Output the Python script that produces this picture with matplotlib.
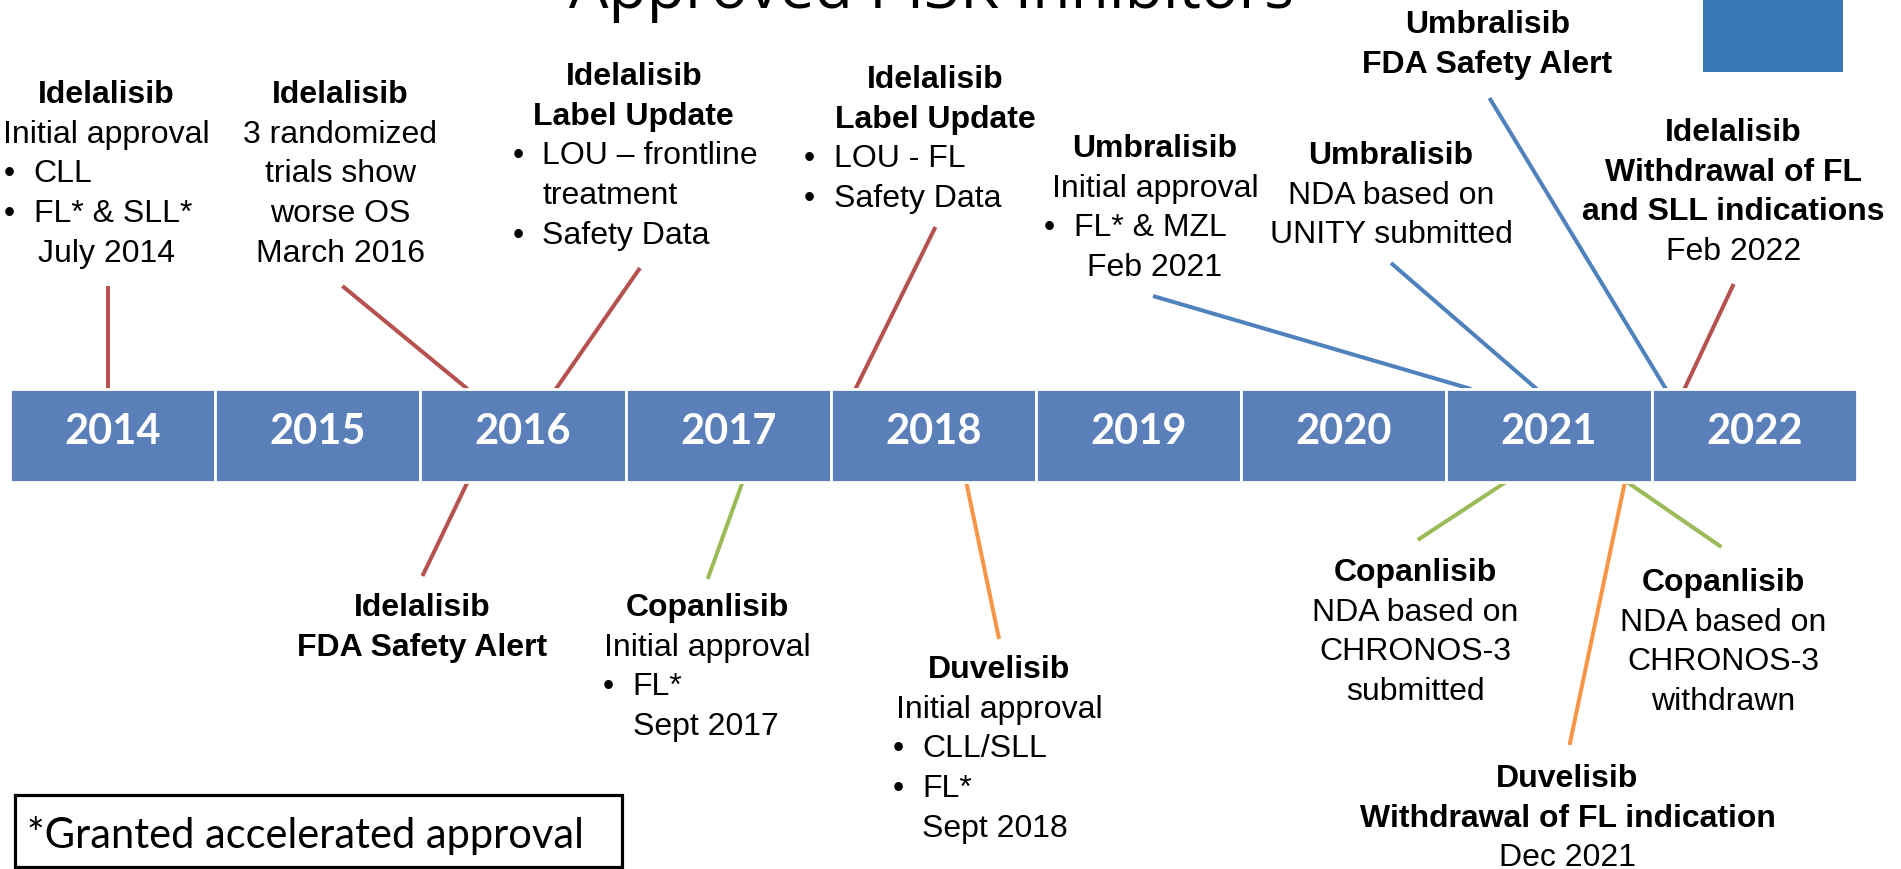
import matplotlib
matplotlib.use('Agg')
import matplotlib.pyplot as plt
from matplotlib.patches import Rectangle

# timeline data
years = list(range(2014, 2023))

drugs = ['Idelalisib', 'Idelalisib', 'Idelalisib', 'Idelalisib',
         'Umbralisib', 'Umbralisib', 'Umbralisib', 'Idelalisib',
         'Idelalisib', 'Copanlisib', 'Duvelisib', 'Copanlisib',
         'Duvelisib', 'Copanlisib']
event_dates = [2014.48, 2016.23, 2016.66, 2018.12,
               2021.12, 2021.44, 2022.07, 2022.16,
               2016.23, 2017.57, 2018.66, 2021.29,
               2021.87, 2021.88]
event_sides = ['top'] * 8 + ['bottom'] * 6

# b = bold centred, c = centred, u = bullet, i = indented under bullet
event_lines = [
    [('Initial approval', 'c'), ('CLL', 'u'), ('FL* & SLL*', 'u'), ('July 2014', 'c')],
    [('3 randomized', 'c'), ('trials show', 'c'), ('worse OS', 'c'), ('March 2016', 'c')],
    [('Label Update', 'b'), ('LOU – frontline', 'u'), ('treatment', 'i'), ('Safety Data', 'u')],
    [('Label Update', 'b'), ('LOU - FL', 'u'), ('Safety Data', 'u')],
    [('Initial approval', 'c'), ('FL* & MZL', 'u'), ('Feb 2021', 'c')],
    [('NDA based on', 'c'), ('UNITY submitted', 'c')],
    [('FDA Safety Alert', 'b')],
    [('Withdrawal of FL', 'b'), ('and SLL indications', 'b'), ('Feb 2022', 'c')],
    [('FDA Safety Alert', 'b')],
    [('Initial approval', 'c'), ('FL*', 'u'), ('Sept 2017', 'i')],
    [('Initial approval', 'c'), ('CLL/SLL', 'u'), ('FL*', 'u'), ('Sept 2018', 'i')],
    [('NDA based on', 'c'), ('CHRONOS-3', 'c'), ('submitted', 'c')],
    [('Withdrawal of FL indication', 'b'), ('Dec 2021', 'c')],
    [('NDA based on', 'c'), ('CHRONOS-3', 'c'), ('withdrawn', 'c')],
]

drug_colors = {'Idelalisib': '#B5524F', 'Umbralisib': '#4F81BD',
               'Copanlisib': '#9BBB59', 'Duvelisib': '#F79646'}

# label layout: centre x (years), first line y (px from top), bullet x, line end x, line end y
label_x = [2014.47, 2015.61, 2017.04, 2018.51, 2019.58, 2020.73, 2021.20, 2022.40,
           2016.01, 2017.40, 2018.82, 2020.85, 2021.59, 2022.35]
label_y = [93, 93, 75, 78, 147, 154, 23, 131,
           606, 606, 668, 571, 777, 581]
bullet_x = [2013.97, None, 2016.45, 2017.87, 2019.04, None, None, None,
            None, 2016.89, 2018.30, None, None, None]
end_x = [2014.48, 2015.62, 2017.07, 2018.51, 2019.57, 2020.73, 2021.21, 2022.40,
         2016.01, 2017.40, 2018.82, 2020.86, 2021.60, 2022.34]
end_y = [287, 287, 269, 228, 297, 264, 99, 285,
         577, 580, 640, 541, 746, 548]

W, H = 1901, 870
px_per_year = 205.2
bar_top, bar_bot = 390, 483
fs = 23
gap = 39.7
indent = 0.145

fig = plt.figure(figsize=(W / 100, H / 100), dpi=100)
ax = fig.add_axes([0, 0, 1, 1])
ax.set_xlim(years[0] - 10 / px_per_year, years[0] + (W - 10) / px_per_year)
ax.set_ylim(H, 0)
ax.axis('off')

# year boxes
for yr in years:
    ax.add_patch(Rectangle((yr, bar_top), 1, bar_bot - bar_top, facecolor='#5B80B9',
                           edgecolor='white', lw=2, zorder=2))
    ax.text(yr + 0.5, 432, str(yr), ha='center', va='center', color='white',
            fontsize=30, fontweight='bold', family='Lato', zorder=3)

# connectors and labels
for i, d in enumerate(event_dates):
    y_bar = bar_top if event_sides[i] == 'top' else bar_bot
    ax.plot([d, end_x[i]], [y_bar, end_y[i]], color=drug_colors[drugs[i]], lw=2.9,
            solid_capstyle='butt', zorder=1)

    lines = [(drugs[i], 'b')] + event_lines[i]
    for k, (txt, kind) in enumerate(lines):
        y = label_y[i] + k * gap + 10
        kw = dict(va='baseline', fontsize=fs, family='Liberation Sans', color='black')
        if kind in ('b', 'c'):
            ax.text(label_x[i], y, txt, ha='center',
                    fontweight='bold' if kind == 'b' else 'normal', **kw)
        elif kind == 'u':
            ax.text(bullet_x[i], y, '•', ha='left', **kw)
            ax.text(bullet_x[i] + indent, y, txt, ha='left', **kw)
        else:
            ax.text(bullet_x[i] + indent, y, txt, ha='left', **kw)

# title (cut off at top edge, as in the slide)
fig.text(0.49, 1 - 8 / H, 'Approved PI3K Inhibitors', ha='center', va='baseline',
         fontsize=45, family='Open Sans', color='black')

# blue square in the corner
fig.add_artist(Rectangle((1703 / W, 1 - 73 / H), 140 / W, 73 / H, transform=fig.transFigure,
                         facecolor='#3778B4', edgecolor='none'))

# footnote box
fig.add_artist(Rectangle((15 / W, 2 / H), 607 / W, 72 / H, transform=fig.transFigure,
                         fill=False, edgecolor='black', lw=2.3))
fig.text(27 / W, 1 - 836 / H, '*Granted accelerated approval', ha='left', va='center',
         fontsize=30, family='Lato', color='black')

fig.savefig('out.png', dpi=100)
